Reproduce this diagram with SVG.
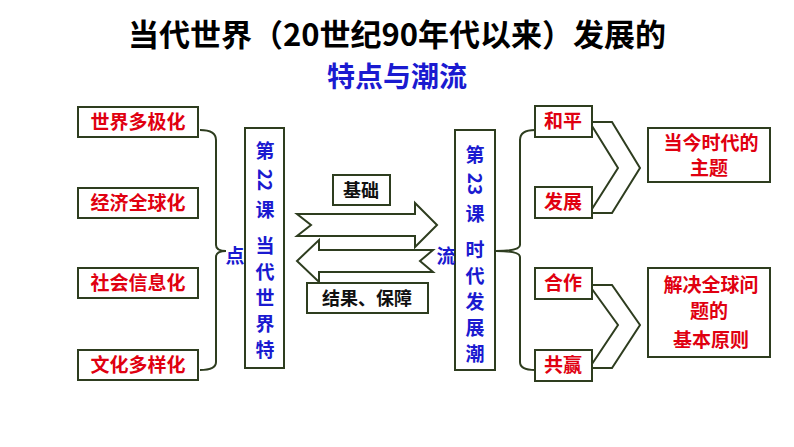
<svg xmlns="http://www.w3.org/2000/svg" width="794" height="447" viewBox="0 0 794 447">
<style>
text{font-family:"Noto Sans CJK SC","Liberation Sans",sans-serif;font-weight:bold}
.b{fill:#fff;stroke:#2e3d1f;stroke-width:2}
.r{fill:#e00010;font-size:19px}
.v{fill:#1a1ad0;font-size:19px}
.k{fill:#111;font-size:18px}
.l{fill:none;stroke:#2e3d1f;stroke-width:2}
</style>
<rect width="794" height="447" fill="#fff"/>
<g id="title">
<text x="397" y="46" text-anchor="middle" font-size="31" fill="#000">当代世界（20世纪90年代以来）发展的</text>
<text x="397" y="87" text-anchor="middle" font-size="28" fill="#1a1ad0">特点与潮流</text>
</g>
<g id="left-items">
<rect class="b" x="78" y="107" width="120" height="30"/><text class="r" x="138" y="129" text-anchor="middle">世界多极化</text>
<rect class="b" x="78" y="188" width="120" height="30"/><text class="r" x="138" y="210" text-anchor="middle">经济全球化</text>
<rect class="b" x="78" y="268" width="120" height="30"/><text class="r" x="138" y="290" text-anchor="middle">社会信息化</text>
<rect class="b" x="78" y="350" width="120" height="30"/><text class="r" x="138" y="372" text-anchor="middle">文化多样化</text>
</g>
<g id="connectors">
<path class="l" d="M200,130 Q216,130 216,140 V245 Q216,251 226,251 Q216,251 216,257 V362 Q216,370 200,370"/>
<path class="l" d="M535,130 Q520,130 520,140 V245 Q520,251 496,251 Q520,251 520,257 V362 Q520,370 535,370"/>
<path class="l" d="M297,214 H415 V203 L437,225 L415,247 V236 H297 L311,225 Z"/>
<path class="l" d="M433,250 H319 V240 L297,261 L319,282 V272 H433 L420,261 Z"/>
<path class="l" d="M592,122 H612 L640,168 L612,213 H592 M592,126 L618,168 L592,209"/>
<path class="l" d="M592,285 H612 L640,325 L612,368 H592 M592,289 L618,325 L592,364"/>
</g>
<g id="lesson22">
<rect class="b" x="245" y="128" width="39" height="240"/>
<g class="v" text-anchor="middle">
<text x="265" y="158">第</text>
<text transform="translate(258,170) rotate(90)" x="10" y="0" font-size="19" fill="#1a1ad0">22</text>
<text x="265" y="217">课</text>
<text x="265" y="253">当</text>
<text x="265" y="279">代</text>
<text x="265" y="305">世</text>
<text x="265" y="331">界</text>
<text x="265" y="357">特</text>
<text x="235" y="263">点</text>
</g>
</g>
<g id="lesson23">
<rect class="b" x="455" y="130" width="40" height="240"/>
<g class="v" text-anchor="middle">
<text x="475" y="162">第</text>
<text transform="translate(468,174) rotate(90)" x="10" y="0" font-size="19" fill="#1a1ad0">23</text>
<text x="475" y="221">课</text>
<text x="475" y="257">时</text>
<text x="475" y="283">代</text>
<text x="475" y="309">发</text>
<text x="475" y="335">展</text>
<text x="475" y="361">潮</text>
<text x="446" y="263">流</text>
</g>
</g>
<g id="labels">
<rect class="b" x="333" y="175" width="57" height="30"/><text class="k" x="361" y="197" text-anchor="middle">基础</text>
<rect class="b" x="307" y="283" width="121" height="30"/><text class="k" x="367" y="305" text-anchor="middle">结果、保障</text>
</g>
<g id="right-items">
<rect class="b" x="535" y="106" width="57" height="31"/><text class="r" x="563" y="128" text-anchor="middle">和平</text>
<rect class="b" x="535" y="187" width="57" height="31"/><text class="r" x="563" y="209" text-anchor="middle">发展</text>
<rect class="b" x="535" y="268" width="57" height="31"/><text class="r" x="563" y="290" text-anchor="middle">合作</text>
<rect class="b" x="535" y="350" width="57" height="31"/><text class="r" x="563" y="372" text-anchor="middle">共赢</text>
</g>
<g id="results">
<rect class="b" x="648" y="128" width="122" height="54"/>
<text class="r" x="711" y="150" text-anchor="middle">当今时代的</text><text class="r" x="709" y="175" text-anchor="middle">主题</text>
<rect class="b" x="648" y="268" width="122" height="89"/>
<text class="r" x="711" y="292" text-anchor="middle">解决全球问</text><text class="r" x="709" y="318" text-anchor="middle">题的</text><text class="r" x="711" y="347" text-anchor="middle">基本原则</text>
</g>
</svg>
